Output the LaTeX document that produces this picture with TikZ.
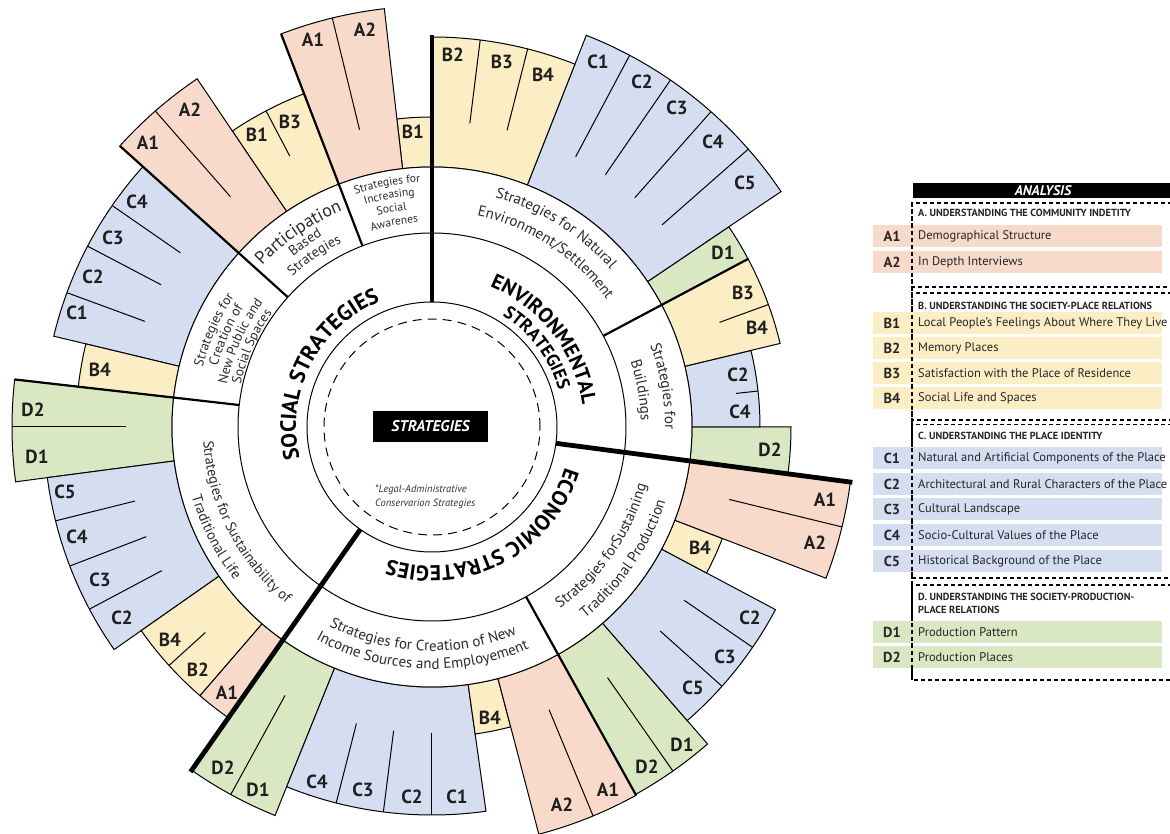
\documentclass[tikz,border=0pt]{standalone}
\usepackage{fontspec}
\setmainfont{PT Sans}
\usetikzlibrary{decorations.text}
\definecolor{ca}{HTML}{F8DACB}
\definecolor{cb}{HTML}{FCEEC4}
\definecolor{cc}{HTML}{D5DDF0}
\definecolor{cd}{HTML}{D9E8C2}
\definecolor{subtxt}{HTML}{2B2B2B}
\newcommand\sbar[4]{\filldraw[fill=#4,draw=black,line width=1pt] (#1:260pt) arc[start angle=#1,end angle=#2,radius=260pt] -- (#2:#3pt) arc[start angle=#2,end angle=#1,radius=#3pt] -- cycle;}
\newcommand\dv[2]{\draw[line width=1pt] (#1:306pt) -- (#1:#2pt);}
\newcommand\outtext[5]{\path[decorate,decoration={text along path,text align=center,text format delimiters={|}{|},text={|#4|#5}}] ({#2+#3}:#1pt) arc[start angle={#2+#3},end angle={#2-#3},radius=#1pt];}
\newcommand\intext[5]{\path[decorate,decoration={text along path,text align=center,text format delimiters={|}{|},text={|#4|#5}}] ({#2-#3}:#1pt) arc[start angle={#2-#3},end angle={#2+#3},radius=#1pt];}
\tikzset{
  lbl/.style={font=\bfseries\fontsize{19}{19}\selectfont, inner sep=0pt, text=black!88},
  leglbl/.style={font=\bfseries\fontsize{14.5}{14.5}\selectfont, inner sep=0pt, text=black!85},
  legtxt/.style={font=\fontsize{12.5}{12.5}\selectfont, inner sep=0pt, anchor=west, text=black!85},
  leghead/.style={font=\bfseries\fontsize{10.3}{13.5}\selectfont, inner sep=0pt, anchor=west, align=left, text=black!85},
  dsh/.style={line width=1.5pt, dash pattern=on 4pt off 3pt},
  mainsep/.style={line width=4.8pt},
  subsep/.style={line width=2.2pt}
}
\begin{document}
\begin{tikzpicture}[x=1pt,y=1pt]
\useasboundingbox[fill=white] (-432,-407) rectangle (738,427);
% ---------- outer bars ----------
\sbar{90}{96.5}{310}{cb}
\sbar{96.5}{111}{421}{ca} \dv{103.7}{421}
\sbar{111}{124}{357}{cb} \dv{117.7}{357}
\sbar{124}{138}{420}{ca} \dv{131.2}{420}
\sbar{138}{166.5}{389}{cc} \dv{145.3}{389} \dv{152.3}{389} \dv{159.8}{389}
\sbar{166.5}{173.5}{356}{cb}
\sbar{173.5}{187.5}{420}{cd} \dv{180}{420}
\sbar{187.5}{215}{388}{cc} \dv{194}{388} \dv{201}{388} \dv{208}{388}
\sbar{215}{229.2}{355}{cb} \dv{222.2}{355}
\sbar{229.2}{235}{355}{ca}
\sbar{235}{248}{419}{cd} \dv{241.3}{419}
\sbar{248}{278}{388}{cc} \dv{255.7}{388} \dv{262.8}{388} \dv{270}{388}
\sbar{278}{284.7}{310}{cb}
\sbar{284.7}{299}{421}{ca} \dv{292.5}{421}
\sbar{299}{311}{420}{cd} \dv{305}{420}
\sbar{311}{332}{389}{cc} \dv{318.2}{389} \dv{325.5}{389}
\sbar{332}{339}{311}{cb}
\sbar{339}{352.5}{422}{ca} \dv{346.3}{422}
\sbar{352.5}{360}{359}{cd}
\sbar{0}{13.5}{328}{cc} \dv{6.3}{328}
\sbar{13.5}{28}{358}{cb} \dv{20}{358}
\sbar{28}{34}{358}{cd}
\sbar{34}{68.5}{421}{cc} \dv{41.3}{421} \dv{48.5}{421} \dv{55.5}{421} \dv{62}{421}
\sbar{68.5}{90}{390}{cb} \dv{75.8}{390} \dv{82.9}{390}
% ---------- rings ----------
\draw[line width=1pt, fill=white] (0,0) circle[radius=260pt];
\draw[line width=1pt] (0,0) circle[radius=194pt];
\draw[line width=1pt] (0,0) circle[radius=125pt];
\draw[line width=1pt, dash pattern=on 9pt off 6pt] (0,0) circle[radius=108pt];
% ---------- separators ----------
\draw[subsep] (111:194pt) -- (111:421pt);
\draw[subsep] (138:194pt) -- (138:420pt);
\draw[subsep] (173.5:194pt) -- (173.5:420pt);
\draw[subsep] (28:194pt) -- (28:358pt);
\draw[subsep] (299:194pt) -- (299:421pt);
\draw[mainsep] (90:125pt) -- (90:392pt);
\draw[mainsep] (-7.5:125pt) -- (-7.5:424pt);
\draw[mainsep] (235:125pt) -- (235:421pt);
% ---------- centre ----------
\node[fill=black, text=white, font=\bfseries\itshape\fontsize{15.5}{15.5}\selectfont, minimum width=115pt, minimum height=31pt, inner sep=0pt] (ctr) at (-1.5,0.5) {STRATEGIES};
\node[anchor=west, align=left, font=\itshape\fontsize{10.5}{14.5}\selectfont, text=black!80, inner sep=0pt] (legal) at (-57,-70) {*Legal-Administrative\\Conservarion Strategies};
% ---------- main category texts ----------
\outtext{136}{153}{85}{\bfseries\fontsize{22}{22}\selectfont}{SOCIAL STRATEGIES}
\outtext{152}{38}{80}{\bfseries\fontsize{20.5}{20.5}\selectfont}{ENVIRONMENTAL}
\outtext{132}{37}{80}{\bfseries\fontsize{18}{18}\selectfont}{STRATEGIES}
\outtext{139}{297.5}{85}{\bfseries\fontsize{21.5}{21.5}\selectfont}{ECONOMIC STRATEGIES}
% ---------- sub-strategy texts ----------
\outtext{245}{100.5}{60}{\fontsize{11.5}{11.5}\selectfont\color{subtxt}}{Strategies for}
\outtext{232}{100.5}{60}{\fontsize{11.5}{11.5}\selectfont\color{subtxt}}{Increasing}
\outtext{218.5}{100.5}{60}{\fontsize{11.5}{11.5}\selectfont\color{subtxt}}{Social}
\outtext{205}{100.5}{60}{\fontsize{11.5}{11.5}\selectfont\color{subtxt}}{Awarenes}
\outtext{234}{124.5}{60}{\fontsize{18}{18}\selectfont\color{subtxt}}{Participation}
\outtext{220}{124.5}{60}{\fontsize{14}{14}\selectfont\color{subtxt}}{Based}
\outtext{205}{124.5}{60}{\fontsize{14}{14}\selectfont\color{subtxt}}{Strategies}
\outtext{237}{156}{60}{\fontsize{13.5}{13.5}\selectfont\color{subtxt}}{Strategies for}
\outtext{223}{156}{60}{\fontsize{13.5}{13.5}\selectfont\color{subtxt}}{Creation of}
\outtext{209.5}{156}{60}{\fontsize{13.5}{13.5}\selectfont\color{subtxt}}{New Public and}
\outtext{196}{156}{60}{\fontsize{13.5}{13.5}\selectfont\color{subtxt}}{Social Spaces}
\intext{229}{207}{80}{\fontsize{14.5}{14.5}\selectfont\color{subtxt}}{Strategies for Sustainability of}
\intext{250}{207}{80}{\fontsize{14.5}{14.5}\selectfont\color{subtxt}}{Traditional Life}
\intext{224}{267.5}{80}{\fontsize{15}{15}\selectfont\color{subtxt}}{Strategies for Creation of New}
\intext{242}{267.5}{80}{\fontsize{15}{15}\selectfont\color{subtxt}}{Income Sources and Employement}
\intext{222}{325}{80}{\fontsize{15}{15}\selectfont\color{subtxt}}{Strategies forSustaining}
\intext{245}{325.5}{80}{\fontsize{15}{15}\selectfont\color{subtxt}}{Traditional Production}
\outtext{233}{10}{60}{\fontsize{15}{15}\selectfont\color{subtxt}}{Strategies for}
\outtext{209}{10}{60}{\fontsize{15}{15}\selectfont\color{subtxt}}{Buildings}
\outtext{238}{58}{80}{\fontsize{15}{15}\selectfont\color{subtxt}}{Strategies for Natural}
\outtext{216}{57}{80}{\fontsize{15}{15}\selectfont\color{subtxt}}{Environment/Settlement}
% ---------- bar labels (pixel coordinates) ----------
\begin{scope}[shift={(-432pt,427pt)}, y=-1pt]
\node[lbl] (w1) at (413,132) {B1};
\node[lbl] (w2) at (313,40) {A1};
\node[lbl] (w3) at (365,30) {A2};
\node[lbl] (p1) at (257,135) {B1};
\node[lbl] (p2) at (290,122) {B3};
\node[lbl] (p3) at (148,143) {A1};
\node[lbl] (p4) at (190,110) {A2};
\node[lbl] (s1) at (137,202) {C4};
\node[lbl] (s2) at (113,238) {C3};
\node[lbl] (s3) at (93,277) {C2};
\node[lbl] (s4) at (77,313) {C1};
\node[lbl] (s5) at (100,370) {B4};
\node[lbl] (t1) at (33,410) {D2};
\node[lbl] (t2) at (37,457) {D1};
\node[lbl] (t3) at (65,492) {C5};
\node[lbl] (t4) at (77,537) {C4};
\node[lbl] (t5) at (100,580) {C3};
\node[lbl] (t6) at (122,618) {C2};
\node[lbl] (t7) at (170,640) {B4};
\node[lbl] (t8) at (198,670) {B2};
\node[lbl] (t9) at (227,693) {A1};
\node[lbl] (i1) at (223,768) {D2};
\node[lbl] (i2) at (258,790) {D1};
\node[lbl] (i3) at (317,782) {C4};
\node[lbl] (i4) at (363,790) {C3};
\node[lbl] (i5) at (412,797) {C2};
\node[lbl] (i6) at (457,797) {C1};
\node[lbl] (i7) at (490,718) {B4};
\node[lbl] (i8) at (562,805) {A2};
\node[lbl] (i9) at (608,790) {A1};
\node[lbl] (r1) at (647,767) {D2};
\node[lbl] (r2) at (682,745) {D1};
\node[lbl] (r3) at (693,688) {C5};
\node[lbl] (r4) at (725,657) {C3};
\node[lbl] (r5) at (750,618) {C2};
\node[lbl] (r6) at (700,548) {B4};
\node[lbl] (r7) at (825,500) {A1};
\node[lbl] (r8) at (815,543) {A2};
\node[lbl] (b1) at (770,450) {D2};
\node[lbl] (b2) at (740,412) {C4};
\node[lbl] (b3) at (738,375) {C2};
\node[lbl] (b4) at (757,328) {B4};
\node[lbl] (b5) at (743,293) {B3};
\node[lbl] (b6) at (723,253) {D1};
\node[lbl] (n1) at (745,183) {C5};
\node[lbl] (n2) at (713,142) {C4};
\node[lbl] (n3) at (677,108) {C3};
\node[lbl] (n4) at (642,82) {C2};
\node[lbl] (n5) at (598,62) {C1};
\node[lbl] (n6) at (543,75) {B4};
\node[lbl] (n7) at (502,62) {B3};
\node[lbl] (n8) at (453,55) {B2};
% ---------- legend ----------
\fill[black] (913,183) rectangle (1172,198);
\node[font=\bfseries\itshape\fontsize{14}{14}\selectfont, text=white, inner sep=0pt] (an) at (1043,190.5) {ANALYSIS};
\draw[dsh] (1172,203) -- (912,203) -- (912,287) -- (1172,287);
\draw[dsh] (1172,293) -- (912,293) -- (912,420) -- (1172,420);
\draw[dsh] (1172,424.5) -- (912,424.5) -- (912,578) -- (1172,578);
\draw[dsh] (1172,585) -- (912,585) -- (912,680) -- (1172,680);
\node[leghead] (ha) at (918,213) {A. UNDERSTANDING THE COMMUNITY INDETITY};
\node[leghead] (hb) at (918,306) {B. UNDERSTANDING THE SOCIETY-PLACE RELATIONS};
\node[leghead] (hc) at (918,436) {C. UNDERSTANDING THE PLACE IDENTITY};
\node[leghead] (hd) at (918,603.5) {D. UNDERSTANDING THE SOCIETY-PRODUCTION-\\PLACE RELATIONS};
\foreach \yy/\col/\lab/\txt [count=\k] in {
  236.5/ca/A1/Demographical Structure,
  262/ca/A2/In Depth Interviews,
  323/cb/B1/Local People's Feelings About Where They Live,
  348/cb/B2/Memory Places,
  373.5/cb/B3/Satisfaction with the Place of Residence,
  398.5/cb/B4/Social Life and Spaces,
  458.5/cc/C1/Natural and Artificial Components of the Place,
  484/cc/C2/Architectural and Rural Characters of the Place,
  509.5/cc/C3/Cultural Landscape,
  535/cc/C4/Socio-Cultural Values of the Place,
  561/cc/C5/Historical Background of the Place,
  632/cd/D1/Production Pattern,
  657/cd/D2/Production Places}{
  \fill[\col] (873,\yy-11) rectangle (1162,\yy+11);
  \node[leglbl] (lk\k) at (892,\yy) {\lab};
  \node[legtxt] (lt\k) at (918,\yy) {\txt};
}
\draw[dsh] (912,203) -- (912,680);
\end{scope}
\end{tikzpicture}
\end{document}
